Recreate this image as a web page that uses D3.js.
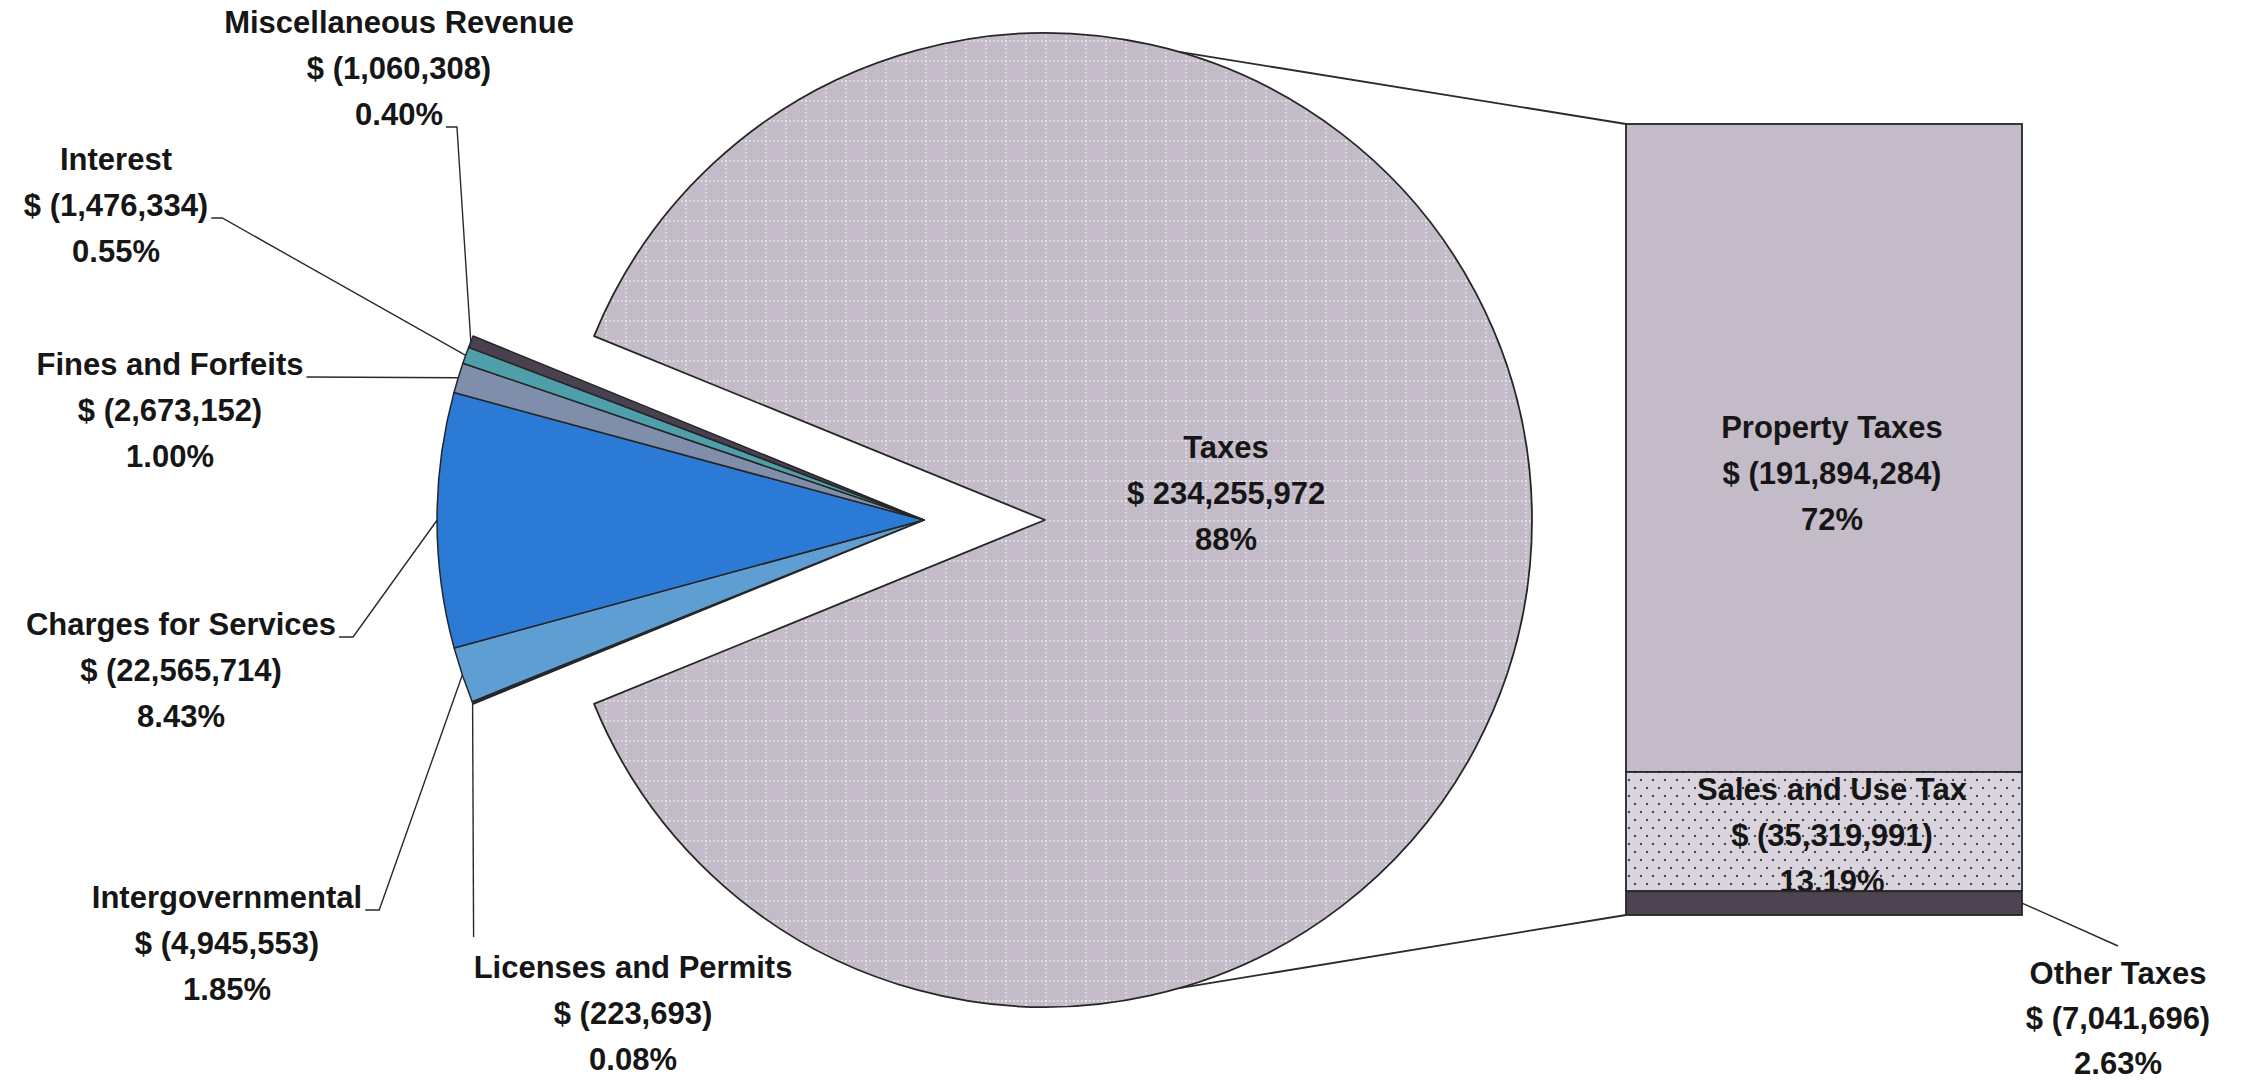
<!DOCTYPE html>
<html>
<head>
<meta charset="utf-8">
<script src="https://cdn.jsdelivr.net/npm/d3@7"></script>
<style>
  html, body { margin: 0; padding: 0; background: #fff; }
  svg { display: block; }
  .lbl { font-family: "Liberation Sans", Arial, sans-serif; font-weight: bold; font-size: 31px; fill: #161616; }
</style>
</head>
<body>
<svg id="chart"></svg>
<script>
// revenue sources (pie) - order is clockwise starting at the big slice
const categories = ['Taxes', 'Licenses and Permits', 'Intergovernmental', 'Charges for Services',
                    'Fines and Forfeits', 'Interest', 'Miscellaneous Revenue'];
const amounts = [234255972, 223693, 4945553, 22565714, 2673152, 1476334, 1060308];
const percentLabels = ['88%', '0.08%', '1.85%', '8.43%', '1.00%', '0.55%', '0.40%'];

// breakdown of taxes (bar)
const taxCategories = ['Property Taxes', 'Sales and Use Tax', 'Other Taxes'];
const taxAmounts = [191894284, 35319991, 7041696];
const taxPercentLabels = ['72%', '13.19%', '2.63%'];

const W = 2247, H = 1087;
const svg = d3.select('#chart').attr('width', W).attr('height', H);

const cx = 1045, cy = 520, R = 487;
const explode = 121;
const barLeft = 1626, barRight = 2022, barTop = 124, barBottom = 915;
const lineGap = 46;

let colors = d3.scaleOrdinal()
    .domain(categories)
    .range(['url(#taxGrid)', '#1e2a4a', '#5f9ed2', '#2b7bd6', '#7f8eaa', '#4f9fab', '#4a4150']);
let barColors = d3.scaleOrdinal()
    .domain(taxCategories)
    .range(['#c3bbc7', 'url(#salesDots)', '#4d4351']);

// patterns
const defs = svg.append('defs');
let grid = defs.append('pattern').attr('id', 'taxGrid')
    .attr('patternUnits', 'userSpaceOnUse').attr('width', 20).attr('height', 20);
grid.append('rect').attr('width', 20).attr('height', 20).attr('fill', '#c3bcc8');
grid.append('line').attr('x1', 1).attr('x2', 1).attr('y1', 0).attr('y2', 20)
    .attr('stroke', '#f4f2f6').attr('stroke-width', 1.3).attr('stroke-dasharray', '1.4 2.6');
grid.append('line').attr('x1', 0).attr('x2', 20).attr('y1', 1).attr('y2', 1)
    .attr('stroke', '#f4f2f6').attr('stroke-width', 1.3).attr('stroke-dasharray', '1.4 2.6');

let dots = defs.append('pattern').attr('id', 'salesDots')
    .attr('patternUnits', 'userSpaceOnUse').attr('width', 12).attr('height', 16);
dots.append('rect').attr('width', 12).attr('height', 16).attr('fill', '#d9d4dd');
dots.append('circle').attr('cx', 3).attr('cy', 4).attr('r', 1.2).attr('fill', '#4a4a4a');
dots.append('circle').attr('cx', 9).attr('cy', 12).attr('r', 1.2).attr('fill', '#4a4a4a');

// pie: the gap for the small slices is centred on the left
const total = d3.sum(amounts);
const gap = (total - amounts[0]) / total * 2 * Math.PI;
const start = 1.5 * Math.PI + gap / 2;
let sliceGenerator = d3.pie().sort(null).value((d) => d).startAngle(start).endAngle(start + 2 * Math.PI);
let arcData = sliceGenerator(amounts);
let arcGenerator = d3.arc().innerRadius(0).outerRadius(R);

const pieG = svg.append('g');
arcData.forEach((d, i) => {
    let ox = i === 0 ? cx : cx - explode;
    pieG.append('path')
        .attr('d', arcGenerator(d))
        .attr('transform', `translate(${ox},${cy})`)
        .attr('fill', colors(categories[i]))
        .attr('stroke', '#262626')
        .attr('stroke-width', i === 0 ? 1.8 : 1.5)
        .attr('stroke-linejoin', 'round');
});

// bar of the taxes
let y = d3.scaleLinear().domain([0, d3.sum(taxAmounts)]).range([barTop, barBottom]);
let stacked = d3.cumsum(taxAmounts);
const barG = svg.append('g');
const lineG = svg.append('g').attr('stroke', '#2a2a2a').attr('fill', 'none');
const textG = svg.append('g');
const topG = svg.append('g');   // the dark segment covers the bottom of the sales label, like the original
let last = taxAmounts.length - 1;

taxAmounts.forEach((v, i) => {
    (i === last ? topG : barG).append('rect')
        .attr('x', barLeft).attr('width', barRight - barLeft)
        .attr('y', y(stacked[i] - v))
        .attr('height', y(stacked[i]) - y(stacked[i] - v))
        .attr('fill', barColors(taxCategories[i]))
        .attr('stroke', '#262626').attr('stroke-width', 1.8);
});

// connector lines from the pie to the bar
const connAngle = 16 * Math.PI / 180;
lineG.append('line')
    .attr('x1', cx + R * Math.sin(connAngle)).attr('y1', cy - R * Math.cos(connAngle))
    .attr('x2', barLeft).attr('y2', y(0)).attr('stroke-width', 1.8);
lineG.append('line')
    .attr('x1', cx + R * Math.sin(connAngle)).attr('y1', cy + R * Math.cos(connAngle))
    .attr('x2', barLeft).attr('y2', y(d3.sum(taxAmounts))).attr('stroke-width', 1.8);

// label placement: [centre x, first baseline]
const labelPos = {
    'Taxes': [1226, 458],
    'Licenses and Permits': [633, 978],
    'Intergovernmental': [227, 908],
    'Charges for Services': [181, 635],
    'Fines and Forfeits': [170, 375],
    'Interest': [116, 170],
    'Miscellaneous Revenue': [399, 33],
    'Property Taxes': [1832, 438],
    'Sales and Use Tax': [1832, 800],
    'Other Taxes': [2118, 984]
};
// which text line the leader hangs from, and the short horizontal bit
const leaderFrom = {
    'Miscellaneous Revenue': [2, 11],
    'Interest': [1, 11],
    'Fines and Forfeits': [0, 0],
    'Charges for Services': [0, 14],
    'Intergovernmental': [0, 14]
};

let fmt = d3.format(',');

function drawLabel(name, lines, gapY) {
    let [lx, ly] = labelPos[name];
    let widths = lines.map((t, k) => {
        let el = textG.append('text').attr('class', 'lbl')
            .attr('x', lx).attr('y', ly + k * (gapY || lineGap))
            .attr('text-anchor', 'middle').text(t);
        return el.node().getComputedTextLength();
    });
    return widths;
}

arcData.forEach((d, i) => {
    let name = categories[i];
    let money = i === 0 ? '$ ' + fmt(amounts[i]) : '$ (' + fmt(amounts[i]) + ')';
    let widths = drawLabel(name, [name, money, percentLabels[i]]);
    if (i === 0) return;
    let a = (d.startAngle + d.endAngle) / 2;
    let px = cx - explode + R * Math.sin(a);
    let py = cy - R * Math.cos(a);
    let [lx, ly] = labelPos[name];
    let pts;
    if (leaderFrom[name]) {
        let [k, elbow] = leaderFrom[name];
        let sx = lx + widths[k] / 2 + 3;
        let sy = ly + k * lineGap + 2;
        pts = [[sx, sy], [sx + elbow, sy], [px, py]];
    } else {
        pts = [[px + 1, ly - 41], [px, py]];
    }
    lineG.append('path').attr('d', d3.line()(pts)).attr('stroke-width', 1.4);
});

taxCategories.forEach((name, i) => {
    drawLabel(name, [name, '$ (' + fmt(taxAmounts[i]) + ')', taxPercentLabels[i]], i === last ? 45 : lineGap);
});

// other taxes leader from the right side of its segment
let midOther = (y(stacked[last] - taxAmounts[last]) + y(stacked[last])) / 2;
lineG.append('path')
    .attr('d', d3.line()([[barRight, midOther], [labelPos['Other Taxes'][0], labelPos['Other Taxes'][1] - 38]]))
    .attr('stroke-width', 1.4);
</script>
</body>
</html>
